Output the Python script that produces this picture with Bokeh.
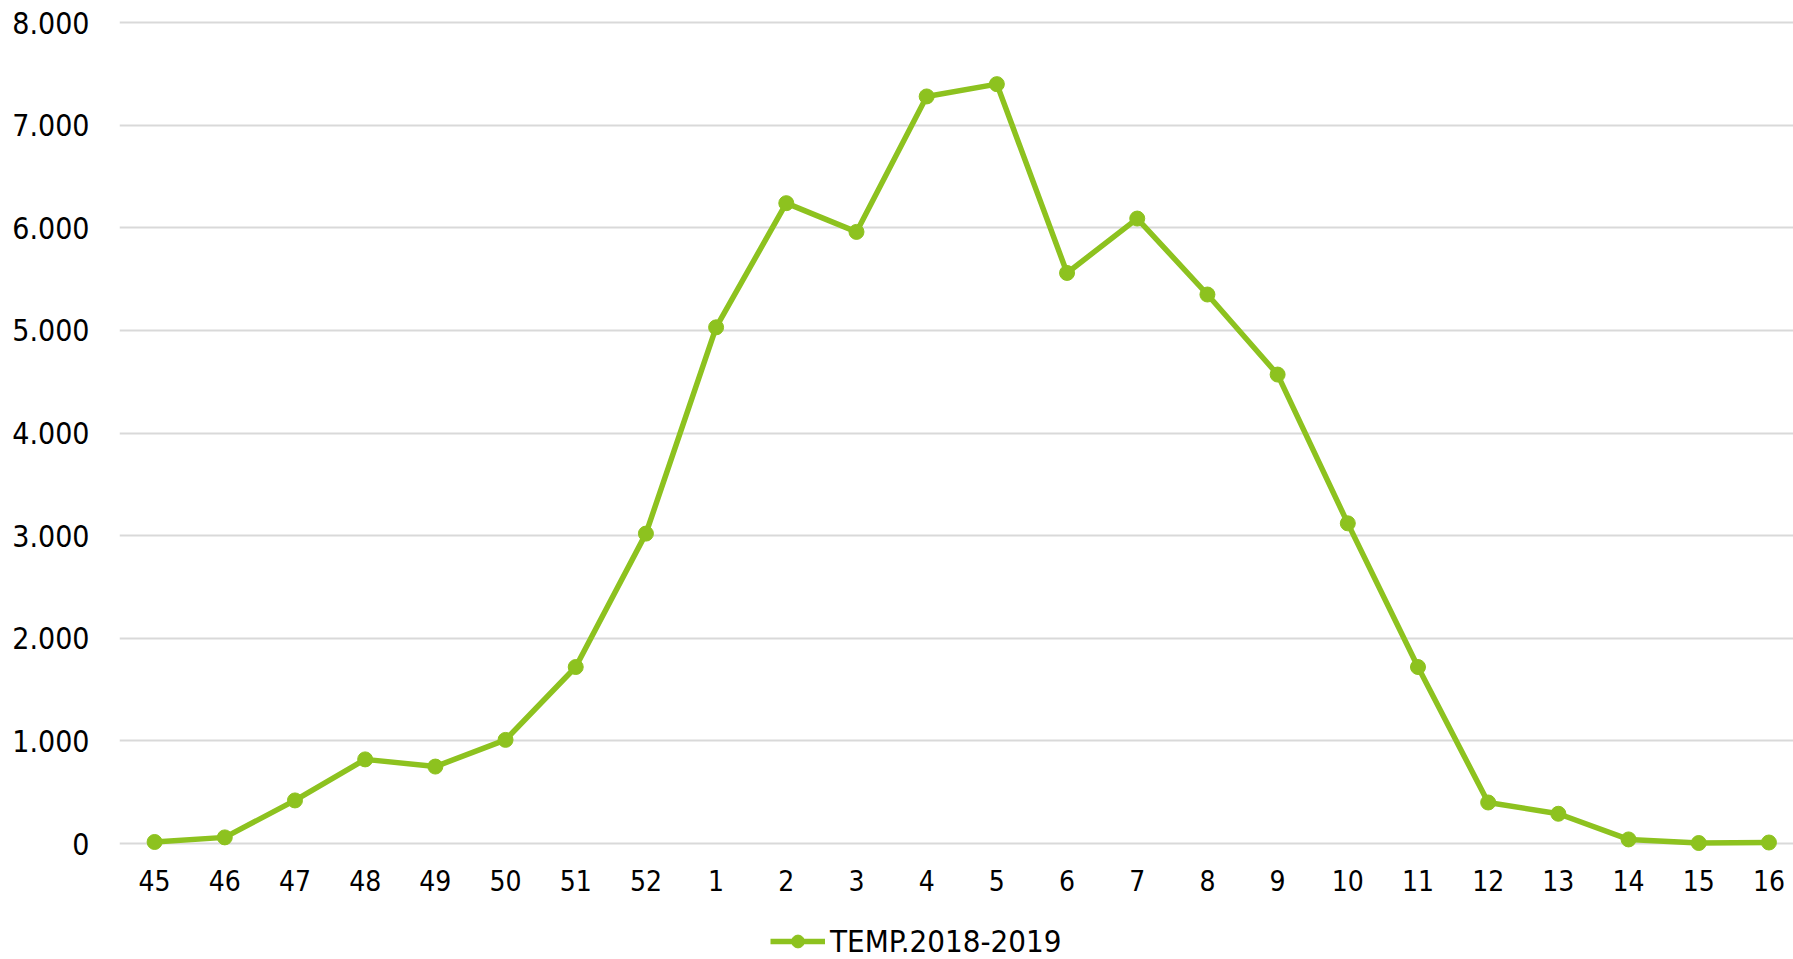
from bokeh.plotting import figure
from bokeh.models import Range1d, FixedTicker, Legend, LegendItem, CustomJSTickFormatter
from bokeh.embed import file_html
from bokeh.resources import INLINE

weeks = ["45", "46", "47", "48", "49", "50", "51", "52", "1", "2", "3", "4",
         "5", "6", "7", "8", "9", "10", "11", "12", "13", "14", "15", "16"]
cases = [15, 60, 420, 820, 750, 1010, 1720, 3020, 5030, 6240, 5960, 7280,
         7400, 5560, 6090, 5350, 4570, 3120, 1720, 400, 290, 40, 5, 10]
series_name = "TEMP.2018-2019"
y_ticks = [0, 1000, 2000, 3000, 4000, 5000, 6000, 7000, 8000]

FONT = "DejaVu Sans Condensed"
GREEN = "#8DC21F"

xs = list(range(len(weeks)))

p = figure(width=1793, height=959, output_backend="svg",
           toolbar_location=None, min_border_left=119, min_border_top=20,
           min_border_right=0, min_border_bottom=0,
           x_range=Range1d(-0.5, 23.35), y_range=Range1d(-1130, 8020))
p.outline_line_color = None

r_line = p.line(xs, cases, line_color=GREEN, line_width=5.5)
r_pts = p.scatter(xs, cases, size=15, fill_color=GREEN, line_color=GREEN)

p.xaxis.ticker = FixedTicker(ticks=xs)
p.xaxis.major_label_overrides = {i: w for i, w in enumerate(weeks)}
p.xaxis.fixed_location = 0
p.yaxis.ticker = FixedTicker(ticks=y_ticks)
p.yaxis.formatter = CustomJSTickFormatter(code="return tick == 0 ? '0' : (tick/1000).toFixed(0) + '.000';")

for ax in (p.xaxis[0], p.yaxis[0]):
    ax.axis_line_color = None
    ax.major_tick_line_color = None
    ax.minor_tick_line_color = None
    ax.major_tick_out = 0
    ax.major_tick_in = 0
    ax.minor_tick_out = 0
    ax.minor_tick_in = 0
    ax.major_label_text_font = FONT
    ax.major_label_text_color = "#000000"

p.yaxis.major_label_text_font_size = "30px"
p.yaxis.major_label_standoff = 30
p.xaxis.major_label_text_font_size = "28px"
p.xaxis.major_label_standoff = 26

p.xgrid.grid_line_color = None
p.ygrid.grid_line_color = "#D9D9D9"
p.ygrid.grid_line_width = 2
p.ygrid.ticker = FixedTicker(ticks=y_ticks)

legend = Legend(items=[LegendItem(label=series_name, renderers=[r_line, r_pts])],
                orientation="horizontal", location=(651, 0),
                label_text_font=FONT, label_text_font_size="31px",
                label_text_color="#000000",
                glyph_width=55, glyph_height=32, label_height=30, label_standoff=5,
                padding=0, margin=0, border_line_color=None,
                background_fill_alpha=0)
p.add_layout(legend, "center")

open("out.html", "w").write(file_html(p, INLINE))
